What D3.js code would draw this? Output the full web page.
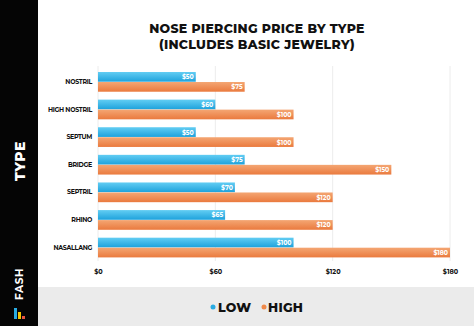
<!DOCTYPE html>
<html><head><meta charset="utf-8">
<script src="https://cdn.jsdelivr.net/npm/d3@7"></script>
<style>body{margin:0;background:#fff}svg{display:block}</style>
</head><body>
<script>
const categories = ["NOSTRIL","HIGH NOSTRIL","SEPTUM","BRIDGE","SEPTRIL","RHINO","NASALLANG"];
const lowValues  = [50,60,50,75,70,65,100];
const highValues = [75,100,100,150,120,120,180];
const tickValues = [0,60,120,180];
const seriesNames = ["LOW","HIGH"];

const W=474,H=326;
const svg=d3.select("body").append("svg").attr("width",W).attr("height",H);
const defs=svg.append("defs");
function grad(id,top,bot){
  const g=defs.append("linearGradient").attr("id",id).attr("x1",0).attr("x2",0).attr("y1",0).attr("y2",1);
  g.append("stop").attr("offset","0%").attr("stop-color",top);
  g.append("stop").attr("offset","100%").attr("stop-color",bot);
}
grad("gLow","#62cdf3","#1ea2dc");
grad("gHigh","#f4a673","#ea7a3e");

svg.append("rect").attr("x",0).attr("y",0).attr("width",W).attr("height",H).attr("fill","#fff");
// legend band
svg.append("rect").attr("x",38).attr("y",287).attr("width",W-38).attr("height",H-287).attr("fill","#ebebeb");
// sidebar
svg.append("rect").attr("x",0).attr("y",0).attr("width",38).attr("height",H).attr("fill","#050505");

const font="Montserrat, 'Open Sans', Lato, sans-serif";
svg.append("text").attr("transform","translate(25,161) rotate(-90)").attr("text-anchor","middle")
  .attr("fill","#fff").attr("font-family",font).attr("font-weight",800).attr("font-size",14).attr("letter-spacing",0.5).text("TYPE");
svg.append("text").attr("transform","translate(23,284) rotate(-90)").attr("text-anchor","middle")
  .attr("fill","#fff").attr("font-family",font).attr("font-weight",700).attr("font-size",10.5).attr("letter-spacing",0.6).text("FASH");
// logo
const logo=[["#29abe2",14,308,3,11],["#f5c400",18,312,3,7],["#e8553e",22,316,3,3]];
svg.selectAll("rect.logo").data(logo).join("rect").attr("class","logo")
  .attr("x",d=>d[1]).attr("y",d=>d[2]).attr("width",d=>d[3]).attr("height",d=>d[4]).attr("fill",d=>d[0]);

// title
const title=svg.append("text").attr("text-anchor","middle").attr("font-family",font).attr("font-weight",800)
  .attr("font-size",12.5).attr("letter-spacing",0.3).attr("fill","#111");
title.append("tspan").attr("x",257).attr("y",33).text("NOSE PIERCING PRICE BY TYPE");
title.append("tspan").attr("x",257).attr("y",48.5).text("(INCLUDES BASIC JEWELRY)");

const x=d3.scaleLinear().domain([0,180]).range([98,450]);
const y=d3.scaleBand().domain(categories).range([68.2,261.5]).paddingInner(0.275).paddingOuter(0.1375);
const sub=d3.scaleBand().domain(seriesNames).range([0,y.bandwidth()]);

// gridlines
svg.append("g").selectAll("line").data(tickValues).join("line")
  .attr("x1",d=>x(d)).attr("x2",d=>x(d)).attr("y1",66).attr("y2",261).attr("stroke","#ececec").attr("stroke-width",1);

// axis
const ax=svg.append("g").attr("transform","translate(0,262)")
  .call(d3.axisBottom(x).tickValues(tickValues).tickSize(0).tickPadding(7).tickFormat(d=>"$"+d));
ax.select(".domain").remove();
ax.selectAll("text").attr("font-family",font).attr("font-weight",700).attr("font-size",6.5).attr("fill","#111");

const ay=svg.append("g").attr("transform","translate(98,0)")
  .call(d3.axisLeft(y).tickSize(0).tickPadding(6));
ay.select(".domain").remove();
ay.selectAll("text").attr("font-family",font).attr("font-weight",700).attr("font-size",6.3).attr("letter-spacing",-0.3).attr("fill","#111");

const rows=categories.map((c,i)=>({c,vals:[{s:"LOW",v:lowValues[i]},{s:"HIGH",v:highValues[i]}]}));
const g=svg.append("g").selectAll("g").data(rows).join("g").attr("transform",d=>`translate(0,${y(d.c)})`);
g.selectAll("rect").data(d=>d.vals).join("rect")
  .attr("x",x(0)).attr("y",d=>sub(d.s)).attr("width",d=>x(d.v)-x(0)).attr("height",sub.bandwidth()-0.3)
  .attr("fill",d=>d.s==="LOW"?"url(#gLow)":"url(#gHigh)");
g.selectAll("text").data(d=>d.vals).join("text")
  .attr("x",d=>x(d.v)-2).attr("y",d=>sub(d.s)+sub.bandwidth()/2+2.3).attr("text-anchor","end")
  .attr("font-family",font).attr("font-weight",700).attr("font-size",6.2).attr("fill","#fff").text(d=>"$"+d.v);

// legend
const leg=[{n:"LOW",c:"#29abe2",dx:213,tx:218},{n:"HIGH",c:"#f08a4b",dx:264,tx:268}];
svg.selectAll("circle.leg").data(leg).join("circle").attr("class","leg")
  .attr("cx",d=>d.dx).attr("cy",307).attr("r",2.5).attr("fill",d=>d.c);
svg.selectAll("text.leg").data(leg).join("text").attr("class","leg")
  .attr("x",d=>d.tx).attr("y",311.5).attr("font-family",font).attr("font-weight",800).attr("font-size",12.5)
  .attr("letter-spacing",0.3).attr("fill","#111").text(d=>d.n);
</script>
</body></html>
